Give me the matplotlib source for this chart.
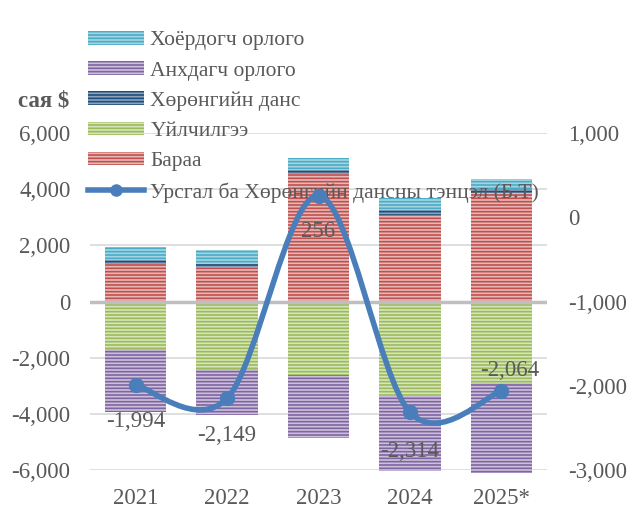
import numpy as np
import matplotlib.pyplot as plt
from matplotlib.path import Path
from matplotlib.patches import PathPatch, Patch
from matplotlib.lines import Line2D

plt.rcParams["font.family"] = ["Liberation Serif", "DejaVu Serif"]
plt.rcParams["hatch.linewidth"] = 1.2

# data (сая $)
years = ["2021", "2022", "2023", "2024", "2025*"]
goods = [1340, 1220, 4530, 3075, 3880]          # Бараа
capital = [120, 118, 150, 177, 118]             # Хөрөнгийн данс
secondary = [475, 497, 440, 450, 355]           # Хоёрдогч орлого
services = [-1700, -2395, -2630, -3360, -2900]  # Үйлчилгээ
primary = [-2225, -1630, -2245, -2670, -3215]   # Анхдагч орлого
balance = [-1994, -2149, 256, -2314, -2064]     # Урсгал ба Хөрөнгийн дансны тэнцэл
balance_labels = ["-1,994", "-2,149", "256", "-2,314", "-2,064"]

txt = "#595959"
fs = 16.5

fig = plt.figure(figsize=(6.4, 5.29), dpi=100)
ax = fig.add_axes([90 / 640, 59 / 529, 457 / 640, 337 / 529])
ax2 = ax.twinx()

x = np.arange(len(years))
w = 0.67

# name, values, face (light), stripe (dark)
series = [
    ("Бараа", goods, "#e6b9b8", "#c0504d"),
    ("Хөрөнгийн данс", capital, "#8ba5c0", "#1f4e79"),
    ("Хоёрдогч орлого", secondary, "#a5d5e2", "#4bacc6"),
    ("Үйлчилгээ", services, "#d7e4bd", "#9bbb59"),
    ("Анхдагч орлого", primary, "#ccc1da", "#8064a2"),
]

pos_bottom = np.zeros(len(years))
neg_bottom = np.zeros(len(years))
handles = {}
for name, vals, face, dark in series:
    vals = np.array(vals, dtype=float)
    bottom = np.where(vals >= 0, pos_bottom, neg_bottom)
    bars = ax.bar(x, vals, w, bottom=bottom, color=face, edgecolor=dark,
                  linewidth=0, hatch="-----", zorder=2)
    for b in bars:
        b.set_clip_on(False)
    pos_bottom += np.where(vals >= 0, vals, 0)
    neg_bottom += np.where(vals < 0, vals, 0)
    handles[name] = Patch(facecolor=face, edgecolor=dark, linewidth=0, hatch="-----")

ax.set_xlim(-0.5, len(years) - 0.5)
ax.set_ylim(-6000, 6000)
ax.set_yticks(np.arange(-6000, 6001, 2000))
ax.yaxis.set_major_formatter(plt.FuncFormatter(lambda v, p: f"{v:,.0f}"))
ax.set_xticks(x)
ax.set_xticklabels(years)
ax.grid(axis="y", color="#d9d9d9", linewidth=1.2)
ax.set_axisbelow(True)
ax.axhline(0, color="#bfbfbf", linewidth=2.5, zorder=3)
ax.tick_params(axis="y", length=0, pad=14, labelsize=fs, labelcolor=txt)
ax.tick_params(axis="x", length=0, pad=13, labelsize=fs, labelcolor=txt)

ax2.set_ylim(-3000, 1000)
ax2.set_yticks(np.arange(-3000, 1001, 1000))
ax2.yaxis.set_major_formatter(plt.FuncFormatter(lambda v, p: f"{v:,.0f}"))
ax2.tick_params(axis="y", length=0, pad=15, labelsize=fs, labelcolor=txt)
for a in (ax, ax2):
    for s in a.spines.values():
        s.set_visible(False)

# smoothed line, Bezier segments through the points (like Excel smoothing)
line_col = "#4a7ebb"
pts = np.column_stack([x, balance]).astype(float)
verts = [pts[0]]
codes = [Path.MOVETO]
n = len(pts)
for i in range(n - 1):
    p0 = pts[max(i - 1, 0)]
    p1 = pts[i]
    p2 = pts[i + 1]
    p3 = pts[min(i + 2, n - 1)]
    verts += [p1 + (p2 - p0) / 6, p2 - (p3 - p1) / 6, p2]
    codes += [Path.CURVE4] * 3
ax2.add_patch(PathPatch(Path(verts, codes), facecolor="none", edgecolor=line_col,
                        linewidth=4, capstyle="round", zorder=4))
ax2.plot(x, balance, "o", color=line_col, markersize=10, zorder=5)

offsets = [(0, -26), (0, -27), (0, -26), (0, -28), (6, 15)]
for xi, yi, lab, off in zip(x, balance, balance_labels, offsets):
    ax2.annotate(lab, (xi, yi), xytext=off, textcoords="offset points",
                 ha="center", va="center", fontsize=fs, color=txt, zorder=6)

legend_handles = [
    handles["Хоёрдогч орлого"],
    handles["Анхдагч орлого"],
    handles["Хөрөнгийн данс"],
    handles["Үйлчилгээ"],
    handles["Бараа"],
    Line2D([], [], color=line_col, linewidth=4, marker="o", markersize=8),
]
legend_labels = ["Хоёрдогч орлого", "Анхдагч орлого", "Хөрөнгийн данс",
                 "Үйлчилгээ", "Бараа", "Урсгал ба Хөрөнгийн дансны тэнцэл (Б.Т)"]
leg = ax.legend(legend_handles, legend_labels, loc="upper left",
                bbox_to_anchor=(88 / 640, 1 - 31 / 529), bbox_transform=fig.transFigure,
                frameon=False, borderpad=0, borderaxespad=0, fontsize=15.5,
                handlelength=2.6, handleheight=0.6, handletextpad=0.3,
                labelspacing=0.5, labelcolor=txt)
leg.set_zorder(3)

fig.text(44 / 640, 1 - 101 / 529, "сая $", ha="center", va="center",
         fontsize=fs, fontweight="bold", color=txt)

fig.savefig("out.png", dpi=100)
